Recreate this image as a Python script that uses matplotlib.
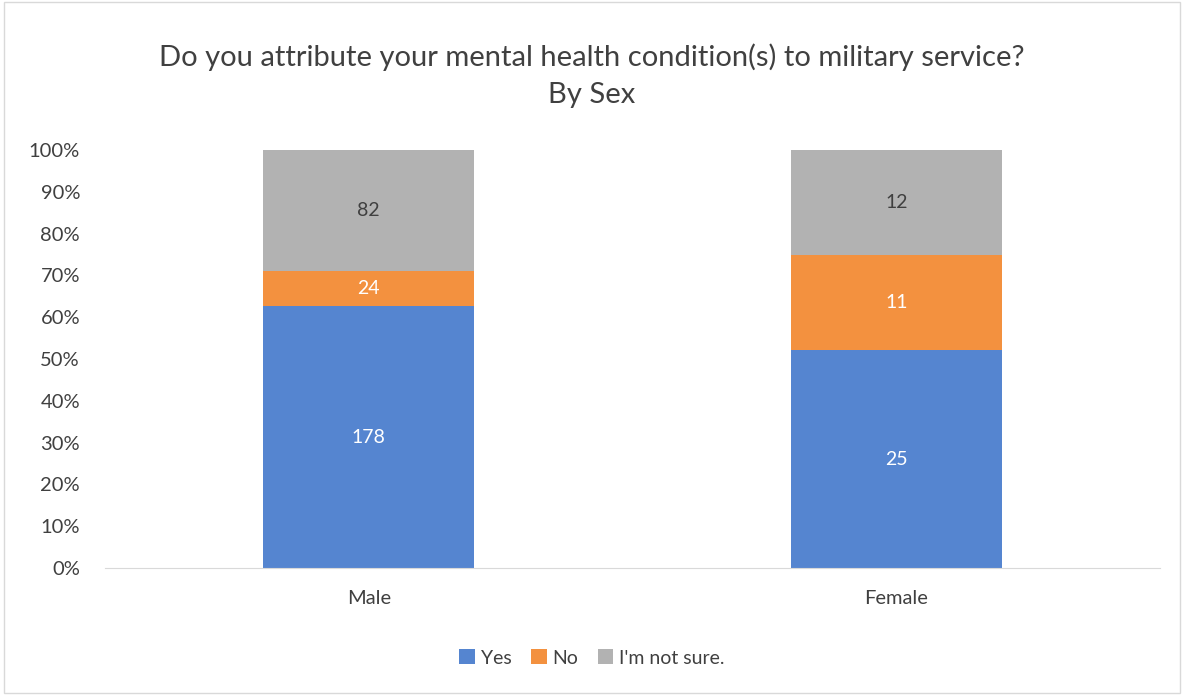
import numpy as np
import matplotlib
matplotlib.use("Agg")
import matplotlib.pyplot as plt
from matplotlib.patches import Rectangle

plt.rcParams['font.family'] = ['Lato', 'DejaVu Sans']

categories = ["Male", "Female"]
series_names = ["Yes", "No", "I'm not sure."]
yes = [178, 25]
no = [24, 11]
not_sure = [82, 12]
colors = ["#5585D0", "#F3913F", "#B2B2B2"]
label_colors = ["white", "white", "#404040"]

counts = np.array([yes, no, not_sure], dtype=float)
shares = counts / counts.sum(axis=0)

fig = plt.figure(figsize=(11.84, 6.95), dpi=100)
ax = fig.add_axes([105 / 1184, 1 - 568 / 695, 1055 / 1184, 418 / 695])

x = np.arange(len(categories))
bottom = np.zeros(len(categories))
for i, name in enumerate(series_names):
    ax.bar(x, shares[i], 0.4, bottom=bottom, color=colors[i], label=name)
    for j in range(len(categories)):
        ax.text(x[j], bottom[j] + shares[i][j] / 2, f"{int(counts[i][j])}",
                ha="center", va="center", fontsize=14, color=label_colors[i])
    bottom += shares[i]

ax.set_xlim(-0.5, 1.5)
ax.set_ylim(0, 1)
ax.set_yticks(np.arange(0, 1.01, 0.1))
ax.set_yticklabels([f"{int(round(v * 100))}%" for v in np.arange(0, 1.01, 0.1)])
ax.set_xticks(x)
ax.set_xticklabels(categories)
ax.tick_params(axis="both", length=0, labelsize=14.5, colors="#404040")
ax.tick_params(axis="y", pad=18)
ax.tick_params(axis="x", pad=16)
for s in ["top", "right", "left"]:
    ax.spines[s].set_visible(False)
ax.spines["bottom"].set_color("#D9D9D9")

fig.text(0.5, 1 - 57 / 695, "Do you attribute your mental health condition(s) to military service?",
         ha="center", va="center", fontsize=21, color="#404040")
fig.text(0.5, 1 - 95 / 695, "By Sex", ha="center", va="center", fontsize=21, color="#404040")

fig.legend(loc="center", bbox_to_anchor=(0.5, 1 - 658 / 695), ncol=3, frameon=False,
           fontsize=14, handlelength=0.8, handleheight=0.8, handletextpad=0.3,
           columnspacing=1.0, labelcolor="#404040")

fig.patches.append(Rectangle((0.003, 0.003), 0.994, 0.994, transform=fig.transFigure,
                             fill=False, edgecolor="#D9D9D9", linewidth=1))

fig.savefig("out.png", dpi=100)
